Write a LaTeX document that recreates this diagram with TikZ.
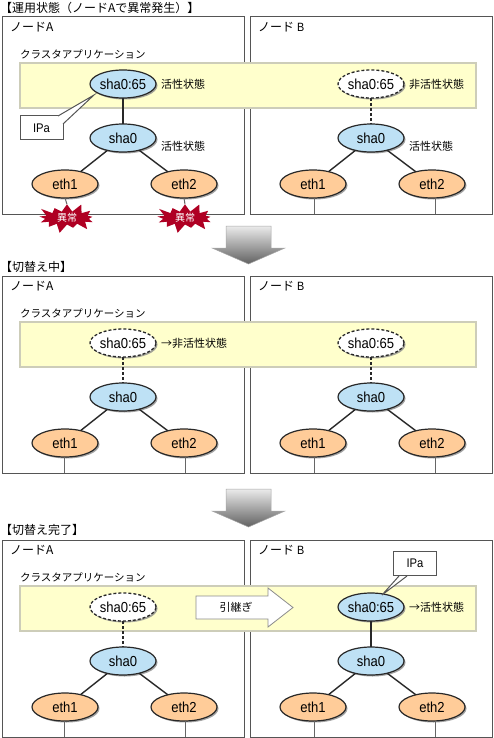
\documentclass[tikz,border=0pt]{standalone}
\usepackage{fontspec}
\setmainfont{Noto Sans CJK JP}
\newfontfamily\latinface[FakeStretch=0.9]{Liberation Sans}
\usetikzlibrary{shapes.geometric,shapes.symbols,shadows}
\definecolor{edgeink}{RGB}{40,40,40}
\definecolor{panelink}{RGB}{85,85,85}
\definecolor{bandfill}{RGB}{255,255,204}
\definecolor{bandedge}{RGB}{205,205,185}
\definecolor{shablue}{RGB}{190,225,245}
\definecolor{ethorange}{RGB}{255,204,153}
\definecolor{burstred}{RGB}{175,0,35}
\tikzset{
  x=1pt,y=-1pt,
  every node/.style={inner sep=0pt,outer sep=0pt,font=\fontsize{11}{13}\selectfont},
  panel/.style={draw=panelink,line width=1pt,fill=white,rectangle,minimum width=242pt,minimum height=197pt},
  band/.style={draw=bandedge,line width=1.4pt,fill=bandfill,rectangle,minimum width=456pt,minimum height=45pt},
  pill/.style={ellipse,draw=edgeink,line width=1.2pt,minimum width=66pt,minimum height=28pt,font=\latinface\fontsize{14.5}{16}\selectfont,
    drop shadow={shadow xshift=1.5pt,shadow yshift=-1.5pt,fill=black!45,opacity=.8}},
  shapill/.style={pill,fill=shablue},
  ethpill/.style={pill,fill=ethorange},
  idlepill/.style={pill,fill=white,line width=1.3pt,dash pattern=on 3pt off 2pt},
  link/.style={draw=edgeink,line width=1.4pt},
  dashlink/.style={draw=edgeink,line width=1.4pt,dash pattern=on 3pt off 2pt},
  stem/.style={draw=black!60,line width=1pt},
  lbl/.style={anchor=west},
  title/.style={anchor=west,font=\fontsize{12}{14}\selectfont},
  applbl/.style={anchor=west,font=\fontsize{10.5}{13}\selectfont},
  nodelbl/.style={anchor=west,font=\fontsize{12}{14}\selectfont},
  ipbox/.style={rectangle,draw=panelink,line width=1pt,fill=white,minimum width=43pt,minimum height=24pt,font=\latinface\fontsize{12.5}{14}\selectfont},
  burst/.style={starburst,starburst points=13,starburst point height=10pt,fill=burstred,text=white,minimum width=64pt,minimum height=32pt,font=\fontsize{10}{11}\selectfont},
  bigarrow/.style={top color=black!8,bottom color=black!62,draw=black!35,line width=.5pt},
}
\newcommand{\panelrow}[2]{%
  % #1 row name, #2 top y of the panels
  \node[panel,anchor=north west] (#1PA) at (2,#2) {};
  \node[panel,anchor=north west] (#1PB) at (250,#2) {};
  \node[nodelbl] (#1NA) at (10,#2+10) {ノードA};
  \node[nodelbl] (#1NB) at (258,#2+10) {ノード{\latinface\ B}};
  \node[band,anchor=north west] (#1BD) at (20,#2+46) {};
}
\newcommand{\lowerstack}[3]{%
  % #1 node prefix, #2 centre x, #3 row offset
  \node[shapill] (#1S) at (#2,138+#3) {sha0};
  \node[ethpill] (#1E) at (#2-58,184+#3) {eth1};
  \node[ethpill] (#1F) at (#2+61,184+#3) {eth2};
  \draw[link] (#1S) -- (#1E);
  \draw[link] (#1S) -- (#1F);
}
\begin{document}
\begin{tikzpicture}
\useasboundingbox (0,0) rectangle (493,738);
% ---------- row 1
\node[title] (t1) at (0,8) {【運用状態（ノードAで異常発生）】};
\panelrow{a}{17}
\node[applbl] (a1) at (20,54) {クラスタアプリケーション};
\node[shapill] (aAV) at (123,84) {sha0:65};
\lowerstack{aA}{123}{0}
\draw[link] (aAV) -- (aAS);
\node[burst] (xa) at (67,218) {異常};
\node[burst] (xb) at (185,218) {異常};
\draw[stem] (aAE.south) -- (xa.north);
\draw[stem] (aAF.south) -- (xb.north);
\node[ipbox] (ipa) at (41.5,128) {IPa};
\coordinate (ipatip) at (94,95);
\coordinate (ipaone) at (58,116);
\coordinate (ipatwo) at (63,124);
\fill[white] (ipaone) -- (ipatip) -- (ipatwo) -- (63,116) -- cycle;
\draw[draw=panelink,line width=1pt] (ipaone) -- (ipatip) -- (ipatwo);
\node[lbl] (l1) at (161,84) {活性状態};
\node[lbl] (l2) at (161,146) {活性状態};
\node[idlepill] (aBV) at (371,84) {sha0:65};
\lowerstack{aB}{371}{0}
\draw[dashlink] (aBV) -- (aBS);
\coordinate (a1b) at (314,214);
\coordinate (a2b) at (435,214);
\draw[stem] (aBE.south -| a1b) -- (a1b);
\draw[stem] (aBF.south -| a2b) -- (a2b);
\node[lbl] (l3) at (409,84) {非活性状態};
\node[lbl] (l4) at (409,146) {活性状態};
\shade[bigarrow] (226,226) -- (271,226) -- (271,248) -- (285,248) -- (248.5,264) -- (212,248) -- (226,248) -- cycle;
% ---------- row 2
\node[title] (t2) at (0,267) {【切替え中】};
\panelrow{b}{276}
\node[applbl] (b1) at (20,313) {クラスタアプリケーション};
\node[idlepill] (bAV) at (123,343) {sha0:65};
\lowerstack{bA}{123}{259}
\draw[dashlink] (bAV) -- (bAS);
\coordinate (b1a) at (64,473);
\coordinate (b2a) at (185,473);
\draw[stem] (bAE.south -| b1a) -- (b1a);
\draw[stem] (bAF.south -| b2a) -- (b2a);
\node[lbl] (l5) at (161,343) {→非活性状態};
\node[idlepill] (bBV) at (371,343) {sha0:65};
\lowerstack{bB}{371}{259}
\draw[dashlink] (bBV) -- (bBS);
\coordinate (b1b) at (314,473);
\coordinate (b2b) at (435,473);
\draw[stem] (bBE.south -| b1b) -- (b1b);
\draw[stem] (bBF.south -| b2b) -- (b2b);
\shade[bigarrow] (226,489) -- (271,489) -- (271,511) -- (285,511) -- (248.5,527) -- (212,511) -- (226,511) -- cycle;
% ---------- row 3
\node[title] (t3) at (0,530) {【切替え完了】};
\panelrow{c}{540}
\node[applbl] (c1) at (20,577) {クラスタアプリケーション};
\node[idlepill] (cAV) at (123,607) {sha0:65};
\lowerstack{cA}{123}{523}
\draw[dashlink] (cAV) -- (cAS);
\coordinate (c1a) at (64,737);
\coordinate (c2a) at (185,737);
\draw[stem] (cAE.south -| c1a) -- (c1a);
\draw[stem] (cAF.south -| c2a) -- (c2a);
\draw[draw=black!45,line width=.8pt,fill=white] (196,596) -- (268,596) -- (268,588) -- (293,607.5) -- (268,627) -- (268,619) -- (196,619) -- cycle;
\node (hand) at (236,607.5) {引継ぎ};
\node[shapill] (cBV) at (371,607) {sha0:65};
\lowerstack{cB}{371}{523}
\draw[link] (cBV) -- (cBS);
\coordinate (c1b) at (314,737);
\coordinate (c2b) at (435,737);
\draw[stem] (cBE.south -| c1b) -- (c1b);
\draw[stem] (cBF.south -| c2b) -- (c2b);
\node[lbl] (l6) at (409,607) {→活性状態};
\node[ipbox] (ipb) at (415,563.5) {IPa};
\coordinate (ipbone) at (399,576);
\coordinate (ipbtip) at (382,595);
\coordinate (ipbtwo) at (407,576);
\fill[white] (ipbone) -- (ipbtip) -- (ipbtwo) -- cycle;
\draw[draw=panelink,line width=1pt] (ipbone) -- (ipbtip) -- (ipbtwo);
\end{tikzpicture}
\end{document}
